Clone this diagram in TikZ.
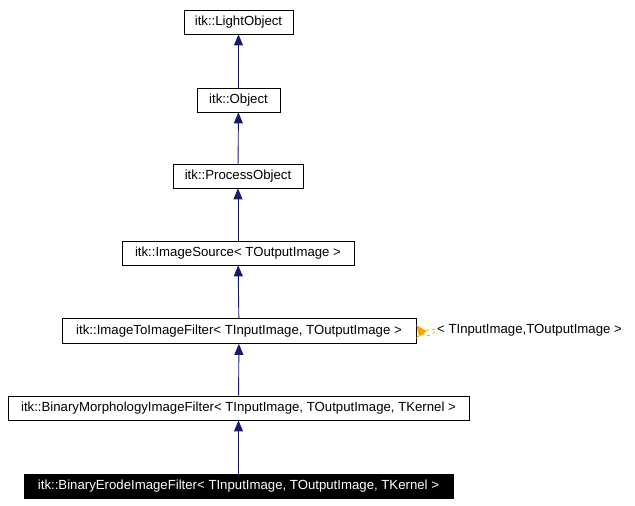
\documentclass[tikz,border=0pt]{standalone}
\usepackage{fontspec}
\setmainfont{Liberation Sans}
\usetikzlibrary{arrows.meta}
\definecolor{navyc}{RGB}{25,25,112}
\definecolor{orangec}{RGB}{255,165,0}
\begin{document}
\begin{tikzpicture}[x=1pt,y=-1pt,
  cls/.style={draw,fill=white,line width=0.8pt,minimum height=24pt,inner sep=0pt,font=\fontsize{13.2}{15}\selectfont},
  inh/.style={draw=navyc,line width=0.9pt,-{Triangle[length=11pt,width=9pt,fill=navyc]}}]
\useasboundingbox (0,0) rectangle (635,506);
\node[cls,minimum width=109pt] (lo) at (238.5,22) {itk::LightObject};
\node[cls,minimum width=83pt] (ob) at (238.5,100) {itk::Object};
\node[cls,minimum width=130pt] (po) at (238,176) {itk::ProcessObject};
\node[cls,minimum width=232pt] (is) at (238,253) {itk::ImageSource< TOutputImage >};
\node[cls,minimum width=354pt,minimum height=25pt] (ii) at (239,331) {itk::ImageToImageFilter< TInputImage, TOutputImage >};
\node[cls,minimum width=461pt] (bm) at (238.5,408) {itk::BinaryMorphologyImageFilter< TInputImage, TOutputImage, TKernel >};
\node[cls,fill=black,text=white,minimum width=429pt] (be) at (238.5,486) {itk::BinaryErodeImageFilter< TInputImage, TOutputImage, TKernel >};
\draw[inh] (ob) -- (lo);
\draw[inh] (po) -- (ob);
\draw[inh] (is) -- (po);
\draw[inh] (ii) -- (is);
\draw[inh] (bm) -- (ii);
\draw[inh] (be) -- (bm);
\coordinate (la) at (436,331);
\draw[orangec,dashed,line width=0.8pt,-{Triangle[length=11pt,width=9pt,fill=orangec]}] ([yshift=-7pt]ii.east) .. controls (430,325) and (436,330) .. (la) .. controls (432,336) and (425,337) .. ([yshift=6pt]ii.east);
\node[anchor=west,inner sep=0pt,font=\fontsize{13.2}{15}\selectfont] (lbl) at (437,330) {< TInputImage,TOutputImage >};
\end{tikzpicture}
\end{document}
